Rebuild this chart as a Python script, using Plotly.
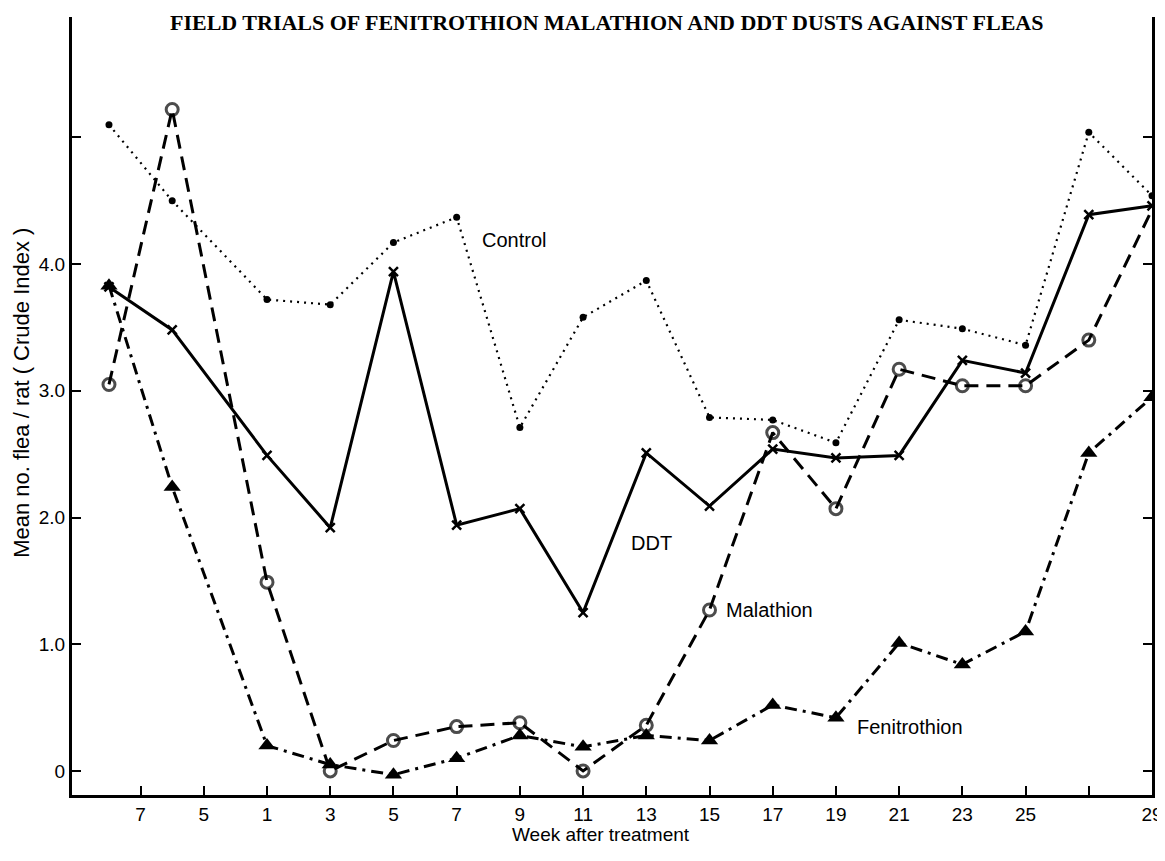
import plotly.graph_objects as go

# Week positions (numeric axis; pre-treatment weeks placed left of week 1)
weeks = [-4, -2, 1, 3, 5, 7, 9, 11, 13, 15, 17, 19, 21, 23, 25, 27, 29]

control = [5.10, 4.50, 3.72, 3.68, 4.17, 4.37, 2.71, 3.58, 3.87, 2.79, 2.77, 2.59, 3.56, 3.49, 3.36, 5.04, 4.54]
ddt = [3.82, 3.48, 2.49, 1.92, 3.94, 1.94, 2.07, 1.25, 2.51, 2.09, 2.54, 2.47, 2.49, 3.24, 3.14, 4.39, 4.46]
malathion = [3.05, 5.22, 1.49, 0.00, 0.24, 0.35, 0.38, 0.00, 0.36, 1.27, 2.67, 2.07, 3.17, 3.04, 3.04, 3.40, 4.43]
fenitrothion = [3.83, 2.24, 0.20, 0.05, -0.03, 0.10, 0.28, 0.19, 0.28, 0.24, 0.52, 0.42, 1.01, 0.84, 1.10, 2.51, 2.95]

x_tickvals = [-3, -1, 1, 3, 5, 7, 9, 11, 13, 15, 17, 19, 21, 23, 25, 27, 29]
x_ticktext = ["7", "5", "1", "3", "5", "7", "9", "11", "13", "15", "17", "19", "21", "23", "25", "", "29"]
y_tickvals = [0, 1, 2, 3, 4, 5]
y_ticktext = ["0", "1.0", "2.0", "3.0", "4.0", ""]

title_text = "FIELD TRIALS OF FENITROTHION MALATHION AND DDT DUSTS AGAINST FLEAS"
x_title = "Week after treatment"
y_title = "Mean no. flea / rat ( Crude Index )"

FONT = "Arial, Liberation Sans, Helvetica, sans-serif"

fig = go.Figure()

fig.add_trace(go.Scatter(
    x=weeks, y=control, mode="lines+markers", name="Control",
    line=dict(color="black", width=2.2, dash="2px,5px"),
    marker=dict(symbol="circle", size=7, color="black"),
))
fig.add_trace(go.Scatter(
    x=weeks, y=ddt, mode="lines+markers", name="DDT",
    line=dict(color="black", width=3),
    marker=dict(symbol="x-thin", size=9, line=dict(color="black", width=2.5)),
))
fig.add_trace(go.Scatter(
    x=weeks, y=malathion, mode="lines+markers", name="Malathion",
    line=dict(color="black", width=3, dash="14px,8px"),
    marker=dict(symbol="circle-open", size=[12] * (len(weeks) - 1) + [0],
                color="black", line=dict(width=3, color="black")),
))
fig.add_trace(go.Scatter(
    x=weeks, y=fenitrothion, mode="lines+markers", name="Fenitrothion",
    line=dict(color="black", width=3, dash="12px,6px,3px,6px"),
    marker=dict(symbol="triangle-up", size=15, color="black"),
))

annots = [
    dict(x=7.75, y=4.19, text="Control"),
    dict(x=12.45, y=1.80, text="DDT"),
    dict(x=15.45, y=1.27, text="Malathion"),
    dict(x=19.6, y=0.35, text="Fenitrothion"),
]
for a in annots:
    fig.add_annotation(x=a["x"], y=a["y"], text=a["text"], showarrow=False,
                       xanchor="left", yanchor="middle",
                       font=dict(family=FONT, size=20, color="black"))

fig.add_annotation(xref="paper", yref="paper", x=0.495, y=1.0, yshift=9,
                   text="<b>" + title_text + "</b>", showarrow=False,
                   xanchor="center", yanchor="top",
                   font=dict(family="Liberation Serif, Times New Roman, serif", size=22, color="black"))
fig.add_annotation(xref="paper", yref="paper", x=0.49, y=-0.035,
                   text=x_title, showarrow=False, xanchor="center", yanchor="top",
                   font=dict(family=FONT, size=19, color="black"))
fig.add_annotation(xref="paper", yref="paper", x=-0.0463, y=0.517,
                   text=y_title, showarrow=False, textangle=-90,
                   xanchor="center", yanchor="middle",
                   font=dict(family=FONT, size=22, color="black"))

# page body has an 8px default margin, so the figure is sized to fit the window
fig.update_layout(
    width=1157, height=845,
    margin=dict(l=64, r=13, t=9, b=58),
    plot_bgcolor="white", paper_bgcolor="white",
    showlegend=False,
    font=dict(family=FONT, size=19, color="black"),
)
fig.update_xaxes(
    range=[-5.17, 29], tickvals=x_tickvals, ticktext=x_ticktext, automargin=False,
    showgrid=False, zeroline=False, showline=True, linecolor="black", linewidth=3,
    ticks="inside", ticklen=9, tickwidth=2, tickcolor="black",
    tickfont=dict(family=FONT, size=19, color="black"),
)
fig.update_yaxes(
    range=[-0.19, 5.95], tickvals=y_tickvals, ticktext=y_ticktext, automargin=False,
    showgrid=False, zeroline=False, showline=True, linecolor="black", linewidth=3,
    mirror="ticks", ticks="inside", ticklen=9, tickwidth=2, tickcolor="black",
    tickfont=dict(family=FONT, size=19, color="black"),
)

fig.write_html("out.html")
